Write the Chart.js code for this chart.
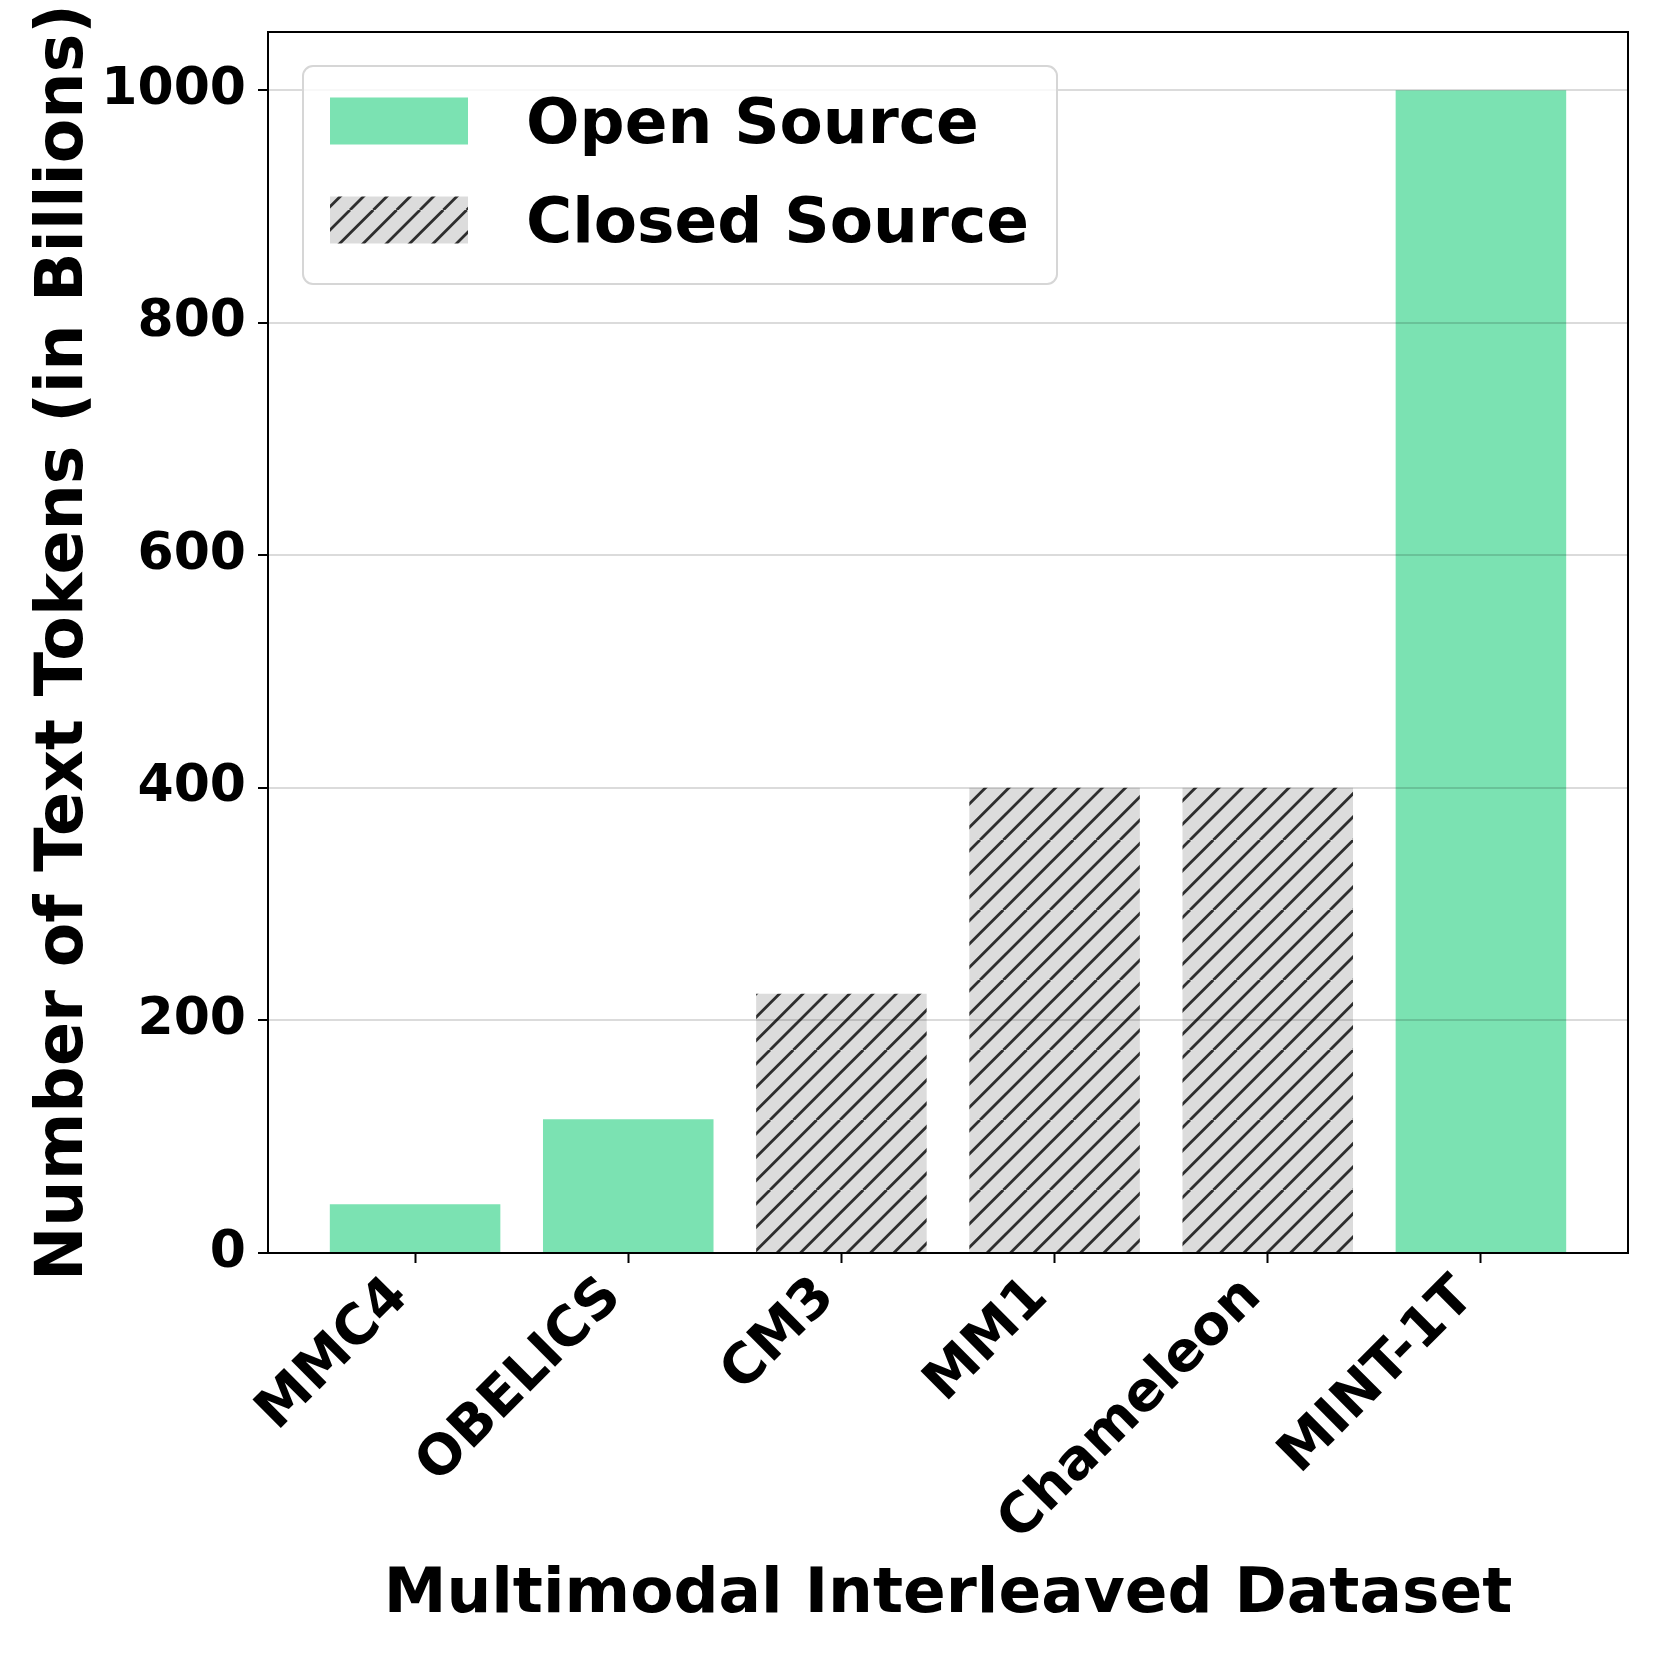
<!DOCTYPE html>
<html>
<head>
<meta charset="utf-8">
<script src="https://cdn.jsdelivr.net/npm/chart.js@4.4.1/dist/chart.umd.min.js"></script>
<style>
  html, body { margin: 0; padding: 0; background: #fff; }
</style>
</head>
<body>
<canvas id="chart" width="1661" height="1661"></canvas>
<script>
// data (billions of text tokens)
const categories = ['MMC4', 'OBELICS', 'CM3', 'MM1', 'Chameleon', 'MINT-1T'];
const tokens = [42, 115, 223, 400, 400, 1000];
const isOpen = [true, true, false, false, false, true];
const yTicks = [0, 200, 400, 600, 800, 1000];
const seriesNames = ['Open Source', 'Closed Source'];

const FONT = "'DejaVu Sans', sans-serif";
const GREEN = '#7be2b2';

// diagonal "//" hatch like matplotlib
function makeHatch() {
    const T = 70;
    const c = document.createElement('canvas');
    c.width = T;
    c.height = T;
    const g = c.getContext('2d');
    g.fillStyle = '#dcdcdc';
    g.fillRect(0, 0, T, T);
    g.strokeStyle = '#2e2e2e';
    g.lineWidth = 2.8;
    const step = T / 3;
    g.beginPath();
    for (let k = -3; k <= 3; k++) {
        g.moveTo(k * step, T);
        g.lineTo(k * step + T, 0);
    }
    g.stroke();
    return g.createPattern(c, 'repeat');
}
const HATCH = makeHatch();

const openPoints = [];
const closedPoints = [];
categories.forEach((c, i) => {
    (isOpen[i] ? openPoints : closedPoints).push({ x: i, y: tokens[i] });
});

const framePlugin = {
    id: 'frame',
    afterDraw(chart) {
        const { ctx, chartArea: a } = chart;
        ctx.save();
        ctx.strokeStyle = '#000';
        ctx.lineWidth = 2;
        ctx.strokeRect(a.left, a.top, a.right - a.left, a.bottom - a.top);
        ctx.restore();
    }
};

const legendPlugin = {
    id: 'boxLegend',
    afterDraw(chart) {
        const { ctx, chartArea: a } = chart;
        const fills = chart.data.datasets.map(d => d.backgroundColor);
        const labels = chart.data.datasets.map(d => d.label);
        ctx.save();
        ctx.font = `bold 63px ${FONT}`;
        const textW = Math.max(...labels.map(l => ctx.measureText(l).width));
        const x0 = a.left + 35, y0 = a.top + 34;
        const patchW = 138, patchH = 47, textX = x0 + 223;
        const w = textX - x0 + textW + 28, h = 218;
        ctx.beginPath();
        ctx.roundRect(x0, y0, w, h, 10);
        ctx.fillStyle = 'rgba(255,255,255,0.8)';
        ctx.fill();
        ctx.strokeStyle = '#d6d6d6';
        ctx.lineWidth = 2;
        ctx.stroke();
        const rows = [y0 + 55, y0 + 154];
        labels.forEach((l, i) => {
            ctx.fillStyle = fills[i];
            ctx.fillRect(x0 + 27, rows[i] - patchH / 2, patchW, patchH);
            ctx.fillStyle = '#000';
            ctx.textBaseline = 'middle';
            ctx.textAlign = 'left';
            ctx.fillText(l, textX, rows[i] + 6);
        });
        ctx.restore();
    }
};

new Chart(document.getElementById('chart'), {
    type: 'bar',
    data: {
        datasets: [
            { label: seriesNames[0], data: openPoints, backgroundColor: GREEN, grouped: false, borderWidth: 0 },
            { label: seriesNames[1], data: closedPoints, backgroundColor: HATCH, grouped: false, borderWidth: 0 }
        ]
    },
    options: {
        responsive: false,
        animation: false,
        layout: { padding: { top: 32, right: 33, left: 0, bottom: 0 } },
        categoryPercentage: 1,
        barPercentage: 0.8,
        plugins: {
            legend: { display: false },
            tooltip: { enabled: false }
        },
        scales: {
            x: {
                type: 'linear',
                offset: false,
                min: -0.69,
                max: 5.69,
                afterBuildTicks: s => { s.ticks = categories.map((c, i) => ({ value: i })); },
                afterFit: s => { s.height = 408; s.paddingLeft = 0; s.paddingRight = 0; },
                grid: { offset: false, drawOnChartArea: false, drawTicks: true, tickLength: 10, tickColor: '#000', tickWidth: 2 },
                border: { display: false },
                ticks: {
                    autoSkip: false,
                    minRotation: 45,
                    maxRotation: 45,
                    padding: 2,
                    labelOffset: -15,
                    color: '#000',
                    font: { family: FONT, size: 55, weight: 'bold' },
                    callback: v => categories[v]
                },
                title: {
                    display: true,
                    text: 'Multimodal Interleaved Dataset',
                    color: '#000',
                    font: { family: FONT, size: 63, weight: 'bold' },
                    padding: { top: 0, bottom: 28 }
                }
            },
            y: {
                min: 0,
                max: 1050,
                afterBuildTicks: s => { s.ticks = yTicks.map(v => ({ value: v })); },
                afterFit: s => { s.width = 268; s.paddingTop = 0; s.paddingBottom = 0; },
                grid: { z: 1, color: 'rgba(0,0,0,0.14)', lineWidth: 2, tickLength: 10, tickColor: '#000', tickWidth: 2 },
                border: { display: false },
                ticks: {
                    padding: 12,
                    color: '#000',
                    font: { family: FONT, size: 52, weight: 'bold' },
                    callback: v => String(v)
                },
                title: {
                    display: true,
                    text: 'Number of Text Tokens (in Billions)',
                    color: '#000',
                    font: { family: FONT, size: 65, weight: 'bold' },
                    padding: { top: 26, bottom: 0 }
                }
            }
        }
    },
    plugins: [framePlugin, legendPlugin]
});
</script>
</body>
</html>
